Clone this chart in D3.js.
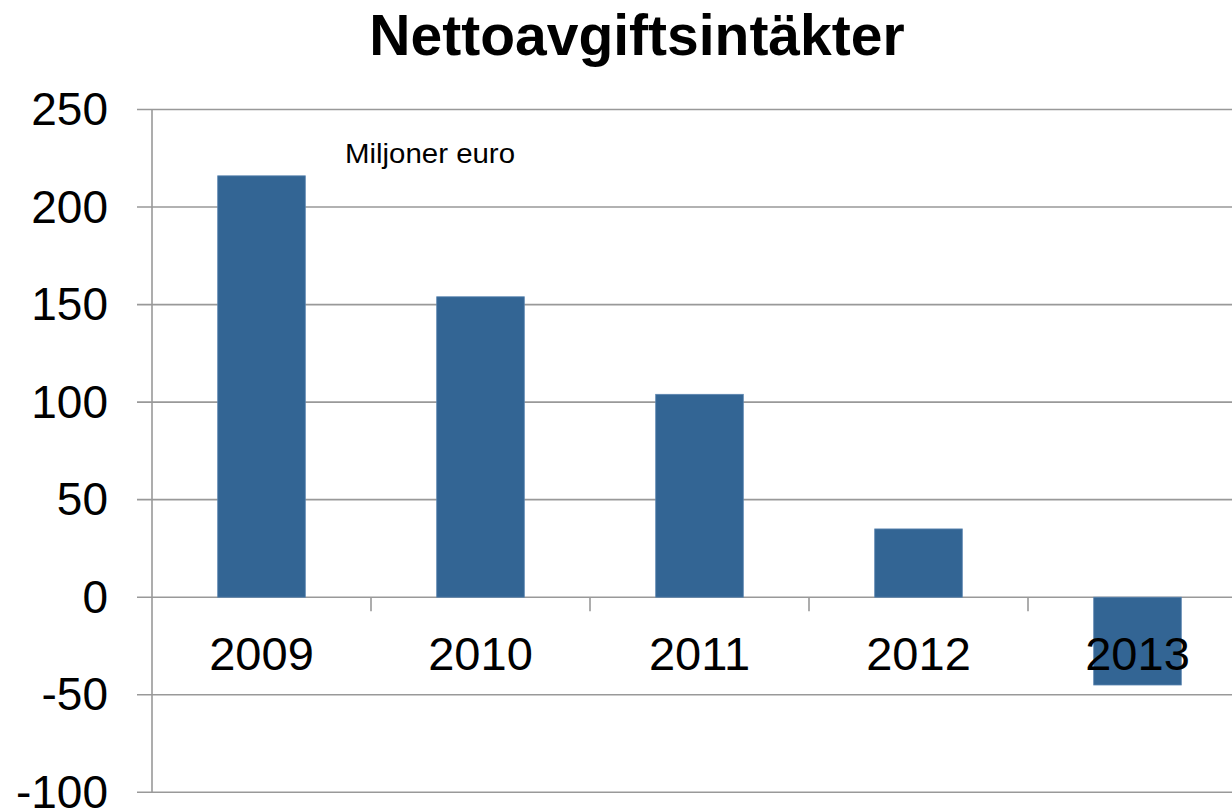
<!DOCTYPE html>
<html><head><meta charset="utf-8">
<script src="https://cdn.jsdelivr.net/npm/d3@7"></script>
<style>body{margin:0;background:#fff;} svg{display:block;}</style>
</head><body>
<svg id="c" width="1232" height="811"></svg>
<script>
const title = "Nettoavgiftsintäkter";
const unitLabel = "Miljoner euro";
const categories = ["2009","2010","2011","2012","2013"];
const values = [216, 154, 104, 35, -45];
const yTicks = [250,200,150,100,50,0,-50,-100];

const svg = d3.select("#c");
const font = "'Liberation Sans', Arial, sans-serif";
const x = d3.scaleBand().domain(categories).range([152, 1247]).paddingInner(0.6).paddingOuter(0.3);
const y = d3.scaleLinear().domain([-100, 250]).range([792.3, 109.5]);

// gridlines
svg.append("g").selectAll("line").data(yTicks).join("line")
  .attr("x1", 137).attr("x2", 1232)
  .attr("y1", d => y(d)).attr("y2", d => y(d))
  .attr("stroke", "#999").attr("stroke-width", 1.6);

// y axis line
svg.append("line").attr("x1", 152).attr("x2", 152).attr("y1", y(250)).attr("y2", y(-100))
  .attr("stroke", "#999").attr("stroke-width", 1.6);

// y tick labels
svg.append("g").selectAll("text").data(yTicks).join("text")
  .attr("x", 108).attr("y", d => y(d)).attr("dy", "0.34em")
  .attr("text-anchor", "end").attr("font-family", font).attr("font-size", 46)
  .attr("fill", "#000").text(d => d);

// bars
svg.append("g").selectAll("rect").data(categories).join("rect")
  .attr("x", d => x(d)).attr("width", x.bandwidth())
  .attr("y", (d,i) => y(Math.max(0, values[i])))
  .attr("height", (d,i) => Math.abs(y(values[i]) - y(0)))
  .attr("fill", "#336594").attr("stroke", "#5b85b0").attr("stroke-width", 0.8);

// category tick marks at zero line
svg.append("g").selectAll("line").data(categories.slice(1)).join("line")
  .attr("x1", d => x(d) - (x.step() - x.bandwidth())/2)
  .attr("x2", d => x(d) - (x.step() - x.bandwidth())/2)
  .attr("y1", y(0)).attr("y2", y(0) + 14)
  .attr("stroke", "#999").attr("stroke-width", 1.6);

// category labels
svg.append("g").selectAll("text").data(categories).join("text")
  .attr("x", d => x(d) + x.bandwidth()/2).attr("y", y(0) + 73)
  .attr("text-anchor", "middle").attr("font-family", font).attr("font-size", 47)
  .attr("fill", "#000").text(d => d);

// title
svg.append("text").attr("x", 637).attr("y", 55).attr("text-anchor", "middle")
  .attr("font-family", font).attr("font-weight", "bold").attr("font-size", 57)
  .attr("fill", "#000").text(title);

// unit label
svg.append("text").attr("x", 345).attr("y", 163)
  .attr("font-family", font).attr("font-size", 28)
  .attr("textLength", 170).attr("lengthAdjust", "spacingAndGlyphs")
  .attr("fill", "#000").text(unitLabel);
</script>
</body></html>
